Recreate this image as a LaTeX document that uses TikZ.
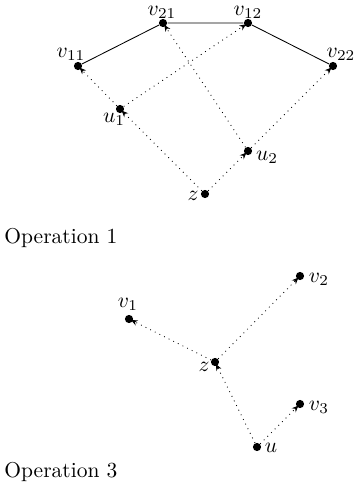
\documentclass[tikz,border=0pt]{standalone}
\usetikzlibrary{arrows.meta}
\begin{document}
\begin{tikzpicture}[x=0.4651pt,y=-0.4651pt,
  vtx/.style={circle,fill=black,inner sep=0pt,minimum size=3.8pt},
  lbl/.style={inner sep=0pt},
  edge/.style={line width=0.4pt},
  lnk/.style={dotted,line width=0.4pt,-{Stealth[length=3pt,width=2.6pt]},shorten >=-1pt},
  caption/.style={inner sep=0pt,anchor=base west}]
\useasboundingbox (0,0) rectangle (359,493);

% Operation 1
\node[vtx] (v11) at (78,66) {};
\node[vtx] (v21) at (163,23) {};
\node[vtx] (v12) at (248,23) {};
\node[vtx] (v22) at (333,66) {};
\node[vtx] (u1) at (120,109) {};
\node[vtx] (u2) at (248,151) {};
\node[vtx] (z) at (205,194) {};

\node[lbl] at (71,54) {$v_{11}$};
\node[lbl] at (162,12) {$v_{21}$};
\node[lbl] at (248,12) {$v_{12}$};
\node[lbl] at (341,54) {$v_{22}$};
\node[lbl] at (114,119) {$u_1$};
\node[lbl] at (267,157) {$u_2$};
\node[lbl] at (193,196) {$z$};

\draw[edge] (v11) -- (v21) -- (v12) -- (v22);
\draw[lnk] (z) -- (u1);
\draw[lnk] (z) -- (u2);
\draw[lnk] (u1) -- (v11);
\draw[lnk] (u1) -- (v12);
\draw[lnk] (u2) -- (v21);
\draw[lnk] (u2) -- (v22);

\node[caption] at (4,243) {Operation 1};

% Operation 3
\node[vtx] (w1) at (129,319) {};
\node[vtx] (w2) at (300,276) {};
\node[vtx] (w3) at (300,404) {};
\node[vtx] (y) at (215,362) {};
\node[vtx] (x) at (257,447) {};

\node[lbl] at (128,304) {$v_1$};
\node[lbl] at (319,279) {$v_2$};
\node[lbl] at (319,407) {$v_3$};
\node[lbl] at (204,367) {$z$};
\node[lbl] at (271,448) {$u$};

\draw[lnk] (y) -- (w1);
\draw[lnk] (y) -- (w2);
\draw[lnk] (x) -- (y);
\draw[lnk] (x) -- (w3);

\node[caption] at (4,477) {Operation 3};
\end{tikzpicture}
\end{document}
